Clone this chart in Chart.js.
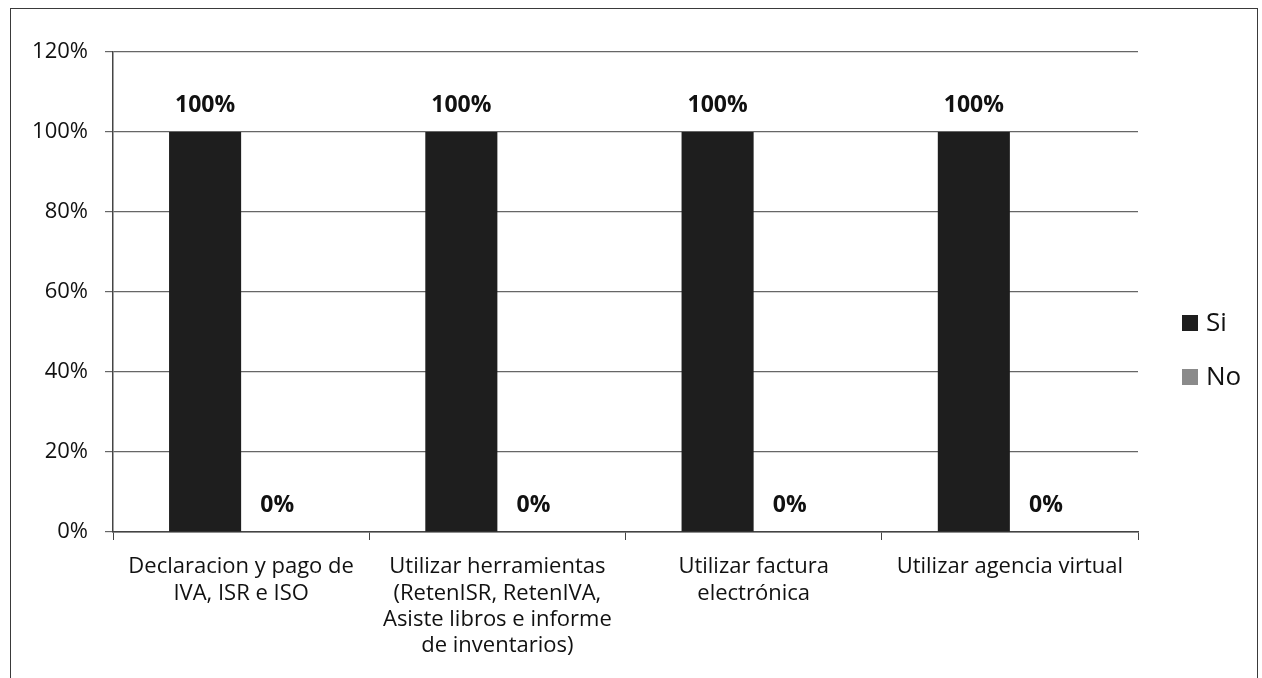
<!DOCTYPE html>
<html>
<head>
<meta charset="utf-8">
<script src="https://cdn.jsdelivr.net/npm/chart.js@4.4.1/dist/chart.umd.min.js"></script>
<style>
  html, body { margin: 0; padding: 0; background: #fff; }
  #wrap { position: relative; width: 1262px; height: 678px; overflow: hidden; }
  #frame { position: absolute; left: 10px; top: 8px; width: 1246px; height: 700px; border: 1px solid #3a3a3a; }
  #c { position: absolute; left: 0; top: 0; }
  #legend { position: absolute; left: 1182px; top: 303px; font-family: "Open Sans", sans-serif; font-size: 26px; color: #111; }
  #legend div { height: 54px; line-height: 36px; white-space: nowrap; }
  #legend span.box { display: inline-block; width: 16px; height: 16px; margin-right: 8px; vertical-align: 0px; }
</style>
</head>
<body>
<div id="wrap">
  <div id="frame"></div>
  <canvas id="c" width="1262" height="678"></canvas>
  <div id="legend"></div>
</div>
<script>
// categorias y valores (en %)
var categories = [
  ['Declaracion y pago de', 'IVA, ISR e ISO'],
  ['Utilizar herramientas', '(RetenISR, RetenIVA,', 'Asiste libros e informe', 'de inventarios)'],
  ['Utilizar factura', 'electrónica'],
  ['Utilizar agencia virtual']
];
var series_names = ['Si', 'No'];
var si_values = [100, 100, 100, 100];
var no_values = [0, 0, 0, 0];
var series_colors = ['#1e1e1e', '#8a8a8a'];
var y_ticks = [0, 20, 40, 60, 80, 100, 120];

// leyenda en html
var legendHtml = '';
for (var i = 0; i < series_names.length; i++) {
  legendHtml += '<div><span class="box" style="background:' + series_colors[i] + '"></span>' + series_names[i] + '</div>';
}
document.getElementById('legend').innerHTML = legendHtml;

var valueLabels = {
  id: 'valueLabels',
  afterDatasetsDraw: function(chart) {
    var ctx = chart.ctx;
    ctx.save();
    ctx.font = 'bold 23px "Open Sans", sans-serif';
    ctx.fillStyle = '#111';
    ctx.textAlign = 'center';
    ctx.textBaseline = 'middle';
    chart.data.datasets.forEach(function(ds, di) {
      chart.getDatasetMeta(di).data.forEach(function(bar, i) {
        ctx.fillText(ds.data[i] + '%', bar.x, bar.y - 27);
      });
    });
    ctx.restore();
  }
};

new Chart(document.getElementById('c'), {
  type: 'bar',
  data: {
    labels: categories,
    datasets: [
      { label: series_names[0], data: si_values, backgroundColor: series_colors[0], categoryPercentage: 0.5625, barPercentage: 1 },
      { label: series_names[1], data: no_values, backgroundColor: series_colors[1], categoryPercentage: 0.5625, barPercentage: 1 }
    ]
  },
  options: {
    responsive: false,
    animation: false,
    layout: { padding: { left: 0, top: 52, right: 124, bottom: 0 } },
    plugins: { legend: { display: false }, tooltip: { enabled: false } },
    scales: {
      x: {
        grid: { display: true, drawOnChartArea: false, drawTicks: true, tickLength: 8, color: '#444', offset: true },
        border: { display: true, color: '#444', width: 1.5 },
        ticks: { color: '#111', padding: 14, maxRotation: 0, autoSkip: false, font: { family: '"Open Sans", sans-serif', size: 22, lineHeight: 1.19 } },
        afterFit: function(s) { s.height = 146; }
      },
      y: {
        min: 0, max: 120,
        afterBuildTicks: function(s) { s.ticks = y_ticks.map(function(v) { return { value: v }; }); },
        grid: { color: '#666', lineWidth: 1.2, tickLength: 8 },
        border: { display: true, color: '#444', width: 1.5 },
        ticks: { color: '#111', padding: 17, font: { family: '"Open Sans", sans-serif', size: 22 }, callback: function(v) { return v + '%'; } },
        afterFit: function(s) { s.width = 113; }
      }
    }
  },
  plugins: [valueLabels]
});
</script>
</body>
</html>
